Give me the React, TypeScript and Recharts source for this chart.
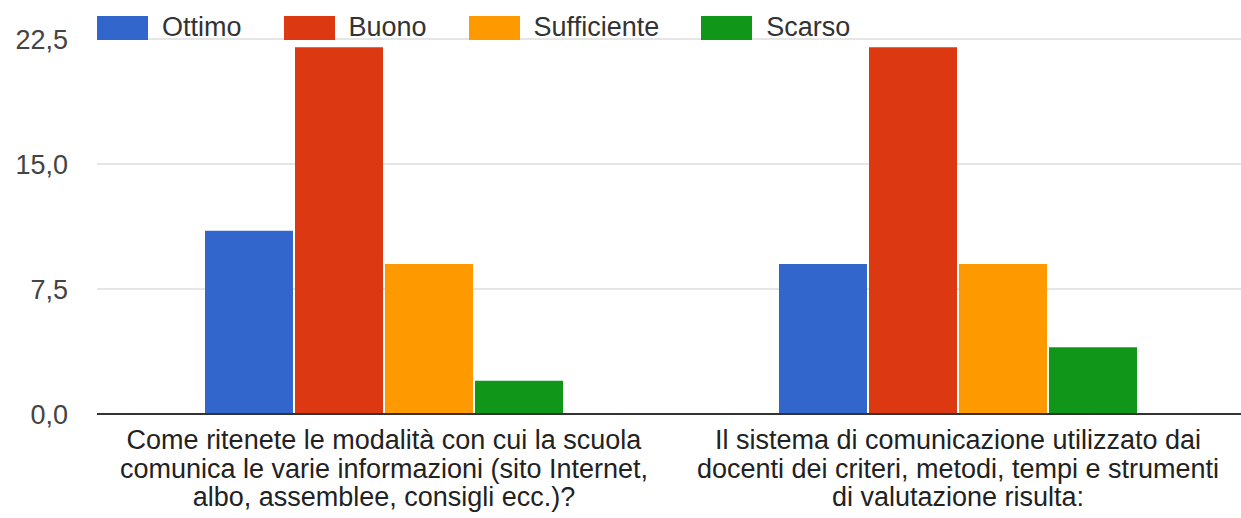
import { BarChart, Bar, XAxis, YAxis, CartesianGrid, Legend } from 'recharts';

const CATEGORIES = [
  'Come ritenete le modalità con cui la scuola comunica le varie informazioni (sito Internet, albo, assemblee, consigli ecc.)?',
  'Il sistema di comunicazione utilizzato dai docenti dei criteri, metodi, tempi e strumenti di valutazione risulta:',
];

const CATEGORY_LINES = [
  ['Come ritenete le modalità con cui la scuola', 'comunica le varie informazioni (sito Internet,', 'albo, assemblee, consigli ecc.)?'],
  ['Il sistema di comunicazione utilizzato dai', 'docenti dei criteri, metodi, tempi e strumenti', 'di valutazione risulta:'],
];

const OTTIMO = [11, 9];
const BUONO = [22, 22];
const SUFFICIENTE = [9, 9];
const SCARSO = [2, 4];

const Y_TICKS = [0, 7.5, 15, 22.5];

const SERIES = [
  { key: 'ottimo', name: 'Ottimo', color: '#3366cc' },
  { key: 'buono', name: 'Buono', color: '#dc3912' },
  { key: 'sufficiente', name: 'Sufficiente', color: '#ff9900' },
  { key: 'scarso', name: 'Scarso', color: '#109618' },
];

const data = CATEGORIES.map((name, i) => ({
  name,
  ottimo: OTTIMO[i],
  buono: BUONO[i],
  sufficiente: SUFFICIENTE[i],
  scarso: SCARSO[i],
}));

const FONT = 'Arial, "Liberation Sans", sans-serif';

function CategoryTick({ x, y, payload }: any) {
  const idx = CATEGORIES.indexOf(payload.value);
  const lines = CATEGORY_LINES[idx] ?? [payload.value];
  return (
    <text x={x} y={y} textAnchor="middle" fill="#222" fontSize={27} fontFamily={FONT}>
      {lines.map((l, i) => (
        <tspan key={i} x={x} dy={i === 0 ? 27 : 28.5}>
          {l}
        </tspan>
      ))}
    </text>
  );
}

function LegendContent({ payload }: any) {
  const order = SERIES.map((s) => s.name);
  const items = [...(payload ?? [])].sort((a: any, b: any) => order.indexOf(a.value) - order.indexOf(b.value));
  return (
    <div style={{ display: 'flex', alignItems: 'center', fontFamily: FONT, fontSize: 27, color: '#333', whiteSpace: 'nowrap' }}>
      {items.map((p: any) => (
        <div key={p.value} style={{ display: 'flex', alignItems: 'center', marginRight: 42 }}>
          <div style={{ width: 51, height: 24, background: p.color, marginRight: 14 }} />
          <span>{p.value}</span>
        </div>
      ))}
    </div>
  );
}

export default function App() {
  return (
    <div style={{ position: 'absolute', left: 0, top: 0, width: 1241, height: 518, background: '#fff', overflow: 'hidden' }}>
      <BarChart
        width={1245}
        height={518}
        data={data}
        margin={{ top: 39, right: 0, left: 8, bottom: 0 }}
        barCategoryGap={108}
        barGap={2}
      >
        <CartesianGrid vertical={false} stroke="#cccccc" />
        <XAxis
          dataKey="name"
          height={104}
          axisLine={{ stroke: '#333', strokeWidth: 2 }}
          tickLine={false}
          tick={<CategoryTick />}
          interval={0}
        />
        <YAxis
          width={89}
          domain={[0, 22.5]}
          ticks={Y_TICKS}
          axisLine={false}
          tickLine={false}
          tickSize={0}
          tickMargin={29}
          tick={{ fill: '#444', fontSize: 27, fontFamily: FONT }}
          tickFormatter={(v: number) => v.toFixed(1).replace('.', ',')}
        />
        <Legend
          verticalAlign="middle"
          align="center"
          layout="horizontal"
          wrapperStyle={{ top: 12, left: 97, width: 'auto' }}
          content={<LegendContent />}
        />
        {SERIES.map((s) => (
          <Bar key={s.key} dataKey={s.key} name={s.name} fill={s.color} isAnimationActive={false} />
        ))}
      </BarChart>
    </div>
  );
}
